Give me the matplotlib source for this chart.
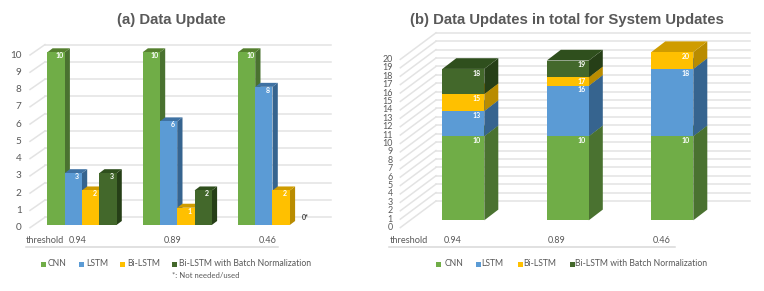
import matplotlib
matplotlib.use('Agg')
import matplotlib.pyplot as plt
from matplotlib.patches import Rectangle

plt.rcParams['font.family'] = ['Lato', 'DejaVu Sans']

thresholds = ['0.94', '0.89', '0.46']
series_names = ['CNN', 'LSTM', 'Bi-LSTM', 'Bi-LSTM with Batch Normalization']

# (a) updates per model
cnn_a = [10, 10, 10]
lstm_a = [3, 6, 8]
bi_a = [2, 1, 2]
bn_a = [3, 2, 0]

# (b) running totals, as printed on the stacks
cnn_b = [10, 10, 10]
lstm_b = [13, 16, 18]
bi_b = [15, 17, 20]
bn_b = [18, 19, 20]

front = ['#70ad47', '#5b9bd5', '#ffc000', '#43682b']
side = ['#4a7230', '#36648f', '#b98c00', '#263f17']
top = ['#55802f', '#3f72a3', '#cf9c00', '#2f4f1d']
grid_col = '#e3e3e3'
text_col = '#595959'

W, H = 764, 291
fig = plt.figure(figsize=(W / 100, H / 100), dpi=100)


def make_axes(left, width, y0_px, unit_px, x0_px, group_px):
    # one axes per panel, x = group number, y = value
    ax = fig.add_axes([left / W, 0, width / W, 1])
    ax.set_xlim((left - x0_px) / group_px, (left + width - x0_px) / group_px)
    ax.set_ylim((y0_px - H) / unit_px, y0_px / unit_px)
    ax.axis('off')
    return ax


def px_text(x, y, s, **kw):
    kw.setdefault('color', text_col)
    kw.setdefault('va', 'center')
    fig.text(x / W, 1 - y / H, s, **kw)


def box(ax, x, w, v0, v1, dx, dy, i):
    ax.fill([x + w, x + w + dx, x + w + dx, x + w], [v0, v0 + dy, v1 + dy, v1],
            color=side[i], lw=0, zorder=3)
    ax.fill([x, x + w, x + w + dx, x + dx], [v1, v1, v1 + dy, v1 + dy],
            color=top[i], lw=0, zorder=3)
    ax.fill([x, x + w, x + w, x], [v0, v0, v1, v1], color=front[i], lw=0, zorder=3)


def walls(ax, ticks, xf, yf, xb, yb, xe):
    for t in ticks:
        ax.plot([xb, xe], [t + yb, t + yb], color=grid_col, lw=1.1, zorder=1)
        ax.plot([xf, xb], [t + yf, t + yb], color=grid_col, lw=1.1, zorder=1)


def legend(squares, y):
    for (sx, tx), name, col in zip(squares, series_names, front):
        fig.add_artist(Rectangle((sx / W, 1 - (y + 2.5) / H), 5 / W, 5 / H,
                                 transform=fig.transFigure, color=col, lw=0))
        px_text(tx, y, name, fontsize=6.2)


# ---- (a)
group_a, unit_a = 95.3, 17.27
ax1 = make_axes(0, 382, 225, unit_a, 47.3, group_a)
walls(ax1, range(11), -17.3 / group_a, -2.7 / unit_a, -2.3 / group_a, 7.7 / unit_a,
      283.7 / group_a)
w_a = 17.3 / group_a
dx_a, dy_a = 5.3 / group_a, 4 / unit_a
for i, vals in enumerate([cnn_a, lstm_a, bi_a, bn_a]):
    for g, v in enumerate(vals):
        x = g + i * w_a
        if v == 0:
            ax1.text(x + w_a / 2 + 7 / group_a, v + 0.45, f'{v}*', color='#404040',
                     fontsize=5, fontweight='bold', ha='center', va='center', zorder=5)
            continue
        box(ax1, x, w_a, 0, v, dx_a, dy_a, i)
        ax1.text(x + w_a / 2 + 3.8 / group_a, v - 3.3 / unit_a, str(v), color='white',
                 fontsize=5, fontweight='bold', ha='center', va='center', zorder=5)
for t in range(11):
    ax1.text(-25.6 / group_a, t - 2.7 / unit_a, str(t), color=text_col, fontsize=7.2,
             ha='right', va='center')
for g, lab in enumerate(thresholds):
    ax1.text(g + 30 / group_a, -15.7 / unit_a, lab, color=text_col, fontsize=6.5,
             ha='center', va='center')
px_text(26, 240.7, 'threshold', fontsize=6.7)
fig.add_artist(plt.Line2D([26 / W, 278 / W], [1 - 246.7 / H] * 2, color='#d9d9d9', lw=1.1))
px_text(171, 20, '(a) Data Update', fontsize=10.7, fontweight='bold', ha='center',
        family=['Liberation Sans'])
legend([(40.5, 48), (78.5, 86), (120, 127.3), (172, 179.3)], 264)
px_text(172.3, 275.7, '*: Not needed/used', fontsize=5.6)

# ---- (b)
group_b, unit_b = 104.5, 8.41
ax2 = make_axes(382, 382, 220.3, unit_b, 442.3, group_b)
walls(ax2, range(21), -42 / group_b, -7.3 / unit_b, -6.3 / group_b, 19.3 / unit_b,
      307.7 / group_b)
w_b = 42 / group_b
dx_b, dy_b = 14 / group_b, 10.7 / unit_b
for g in range(3):
    prev = 0
    for i, vals in enumerate([cnn_b, lstm_b, bi_b, bn_b]):
        v = vals[g]
        if v == prev:
            continue
        box(ax2, g, w_b, prev, v, dx_b, dy_b, i)
        ax2.text(g + w_b / 2 + 13.5 / group_b, v - 4.2 / unit_b, str(v), color='white',
                 fontsize=5, fontweight='bold', ha='center', va='center', zorder=5)
        prev = v
for t in range(21):
    ax2.text(-49.6 / group_b, t - 7.3 / unit_b, str(t), color=text_col, fontsize=6.4,
             ha='right', va='center')
for g, lab in enumerate(thresholds):
    ax2.text(g + 10.3 / group_b, -20.3 / unit_b, lab, color=text_col, fontsize=6.5,
             ha='center', va='center')
px_text(389.3, 240.7, 'threshold', fontsize=6.7)
fig.add_artist(plt.Line2D([389 / W, 675 / W], [1 - 247.3 / H] * 2, color='#d9d9d9', lw=1.1))
px_text(566.5, 20, '(b) Data Updates in total for System Updates', fontsize=10.7,
        fontweight='bold', ha='center', family=['Liberation Sans'])
legend([(436, 444.3), (475.5, 481), (518, 523.3), (569.5, 575)], 264)

plt.savefig('out.png', dpi=100)
